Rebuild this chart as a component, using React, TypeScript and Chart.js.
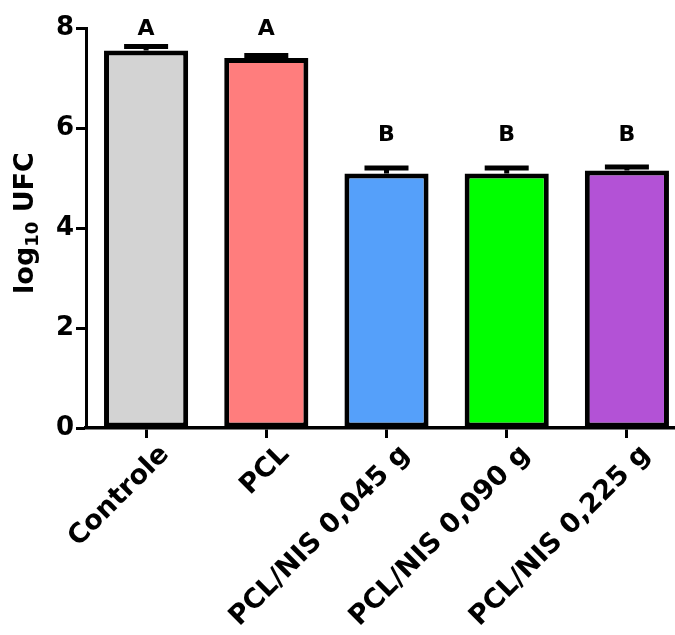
import React, { useEffect, useRef } from "react";
import { Chart, registerables } from "chart.js";

Chart.register(...registerables);

const categories = ["Controle", "PCL", "PCL/NIS 0,045 g", "PCL/NIS 0,090 g", "PCL/NIS 0,225 g"];
const means = [7.55, 7.4, 5.09, 5.09, 5.15];
const errors = [0.08, 0.05, 0.11, 0.11, 0.07];
const groupLetters = ["A", "A", "B", "B", "B"];
const letterLevels = [7.98, 7.98, 5.86, 5.86, 5.86];
const yTicks = [0, 2, 4, 6, 8];
const barColors = ["#d3d3d3", "#ff7d7d", "#55a0fa", "#00ff00", "#b352d6"];

const FONT = "'DejaVu Sans', sans-serif";

const overlayPlugin = {
  id: "overlay",
  afterDatasetsDraw(chart: any) {
    const ctx = chart.ctx;
    const y = chart.scales.y;
    const meta = chart.getDatasetMeta(0);
    ctx.save();
    ctx.strokeStyle = "#000";
    ctx.lineWidth = 5;
    ctx.lineCap = "butt";
    meta.data.forEach((bar: any, i: number) => {
      const x = bar.x;
      const yBar = y.getPixelForValue(means[i]);
      const yTop = y.getPixelForValue(means[i] + errors[i]);
      ctx.beginPath();
      ctx.moveTo(x, yBar);
      ctx.lineTo(x, yTop);
      ctx.stroke();
      ctx.beginPath();
      ctx.moveTo(x - 22, yTop);
      ctx.lineTo(x + 22, yTop);
      ctx.stroke();
    });
    ctx.fillStyle = "#000";
    ctx.font = `bold 22px ${FONT}`;
    ctx.textAlign = "center";
    ctx.textBaseline = "middle";
    meta.data.forEach((bar: any, i: number) => {
      ctx.fillText(groupLetters[i], bar.x, y.getPixelForValue(letterLevels[i]));
    });
    ctx.restore();
  },
  afterDraw(chart: any) {
    const ctx = chart.ctx;
    ctx.save();
    ctx.fillStyle = "#000";
    ctx.textBaseline = "alphabetic";
    ctx.textAlign = "left";
    const big = `bold 27px ${FONT}`;
    const small = `bold 18px ${FONT}`;
    ctx.font = big;
    const w1 = ctx.measureText("log").width;
    const w3 = ctx.measureText(" UFC").width;
    ctx.font = small;
    const w2 = ctx.measureText("10").width;
    const total = w1 + w2 + w3;
    ctx.translate(33, 223);
    ctx.rotate(-Math.PI / 2);
    let x = -total / 2;
    ctx.font = big;
    ctx.fillText("log", x, 0);
    x += w1;
    ctx.font = small;
    ctx.fillText("10", x, 5);
    x += w2;
    ctx.font = big;
    ctx.fillText(" UFC", x, 0);
    ctx.restore();
  },
};

export default function App() {
  const ref = useRef<HTMLCanvasElement>(null);
  useEffect(() => {
    document.body.style.margin = "0";
    const chart = new Chart(ref.current!, {
      type: "bar",
      data: {
        labels: categories,
        datasets: [
          {
            data: means,
            backgroundColor: barColors,
            borderColor: "#000",
            borderWidth: 5,
            borderSkipped: false,
            barPercentage: 0.7,
            categoryPercentage: 1,
          },
        ],
      },
      options: {
        animation: false,
        responsive: false,
        layout: { padding: { left: 0, right: 0, top: 28, bottom: 0 } },
        plugins: { legend: { display: false }, tooltip: { enabled: false } },
        scales: {
          x: {
            offset: true,
            afterFit: (s: any) => {
              s.height = 207;
            },
            grid: {
              offset: false,
              drawOnChartArea: false,
              drawTicks: true,
              tickLength: 10,
              tickWidth: 3,
              tickColor: "#000",
            },
            border: { display: true, color: "#000", width: 3.5 },
            ticks: {
              color: "#000",
              font: { family: FONT, size: 27, weight: "bold" },
              minRotation: 45,
              maxRotation: 45,
              padding: 1,
              labelOffset: 19,
            },
          },
          y: {
            min: 0,
            max: 8,
            afterFit: (s: any) => {
              s.width = 86;
            },
            afterBuildTicks: (s: any) => {
              s.ticks = yTicks.map((v) => ({ value: v }));
            },
            grid: {
              drawOnChartArea: false,
              drawTicks: true,
              tickLength: 10,
              tickWidth: 3,
              tickColor: "#000",
            },
            border: { display: true, color: "#000", width: 3 },
            ticks: {
              color: "#000",
              font: { family: FONT, size: 26, weight: "bold" },
              padding: 2,
            },
          },
        },
      },
      plugins: [overlayPlugin],
    });
    return () => chart.destroy();
  }, []);
  return (
    <div style={{ width: 675, height: 635, overflow: "hidden" }}>
      <canvas ref={ref} width={687} height={635} style={{ display: "block" }} />
    </div>
  );
}
